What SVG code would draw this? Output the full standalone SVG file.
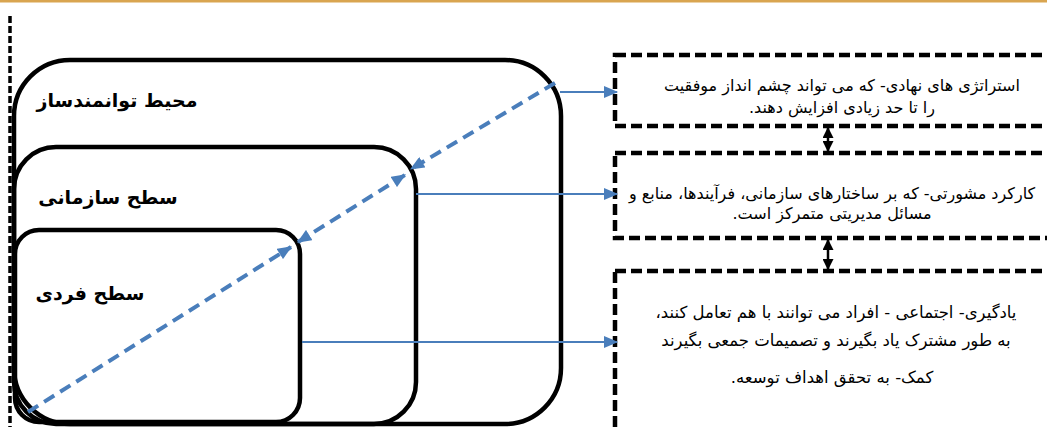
<svg xmlns="http://www.w3.org/2000/svg" width="1047" height="427" viewBox="0 0 1047 427">
<style>
.lvl{fill:none;stroke:#000;stroke-width:4.5}
.box{fill:#fff;stroke:#000;stroke-width:4.5;stroke-dasharray:11 5}
.lbl{font-family:"DejaVu Sans",sans-serif;font-size:19px;font-weight:bold;fill:#000;text-anchor:middle}
.txt{font-family:"DejaVu Sans",sans-serif;font-size:16px;fill:#000;text-anchor:middle}
.diag{fill:none;stroke:#4a7ebb;stroke-width:4;stroke-dasharray:12 7}
.sol{fill:none;stroke:#4a7ebb;stroke-width:2}
.dbl{fill:none;stroke:#000;stroke-width:2.5}
</style>
<defs>
<marker id="ab" viewBox="0 0 12 10" refX="11" refY="5" markerWidth="15" markerHeight="12" markerUnits="userSpaceOnUse" orient="auto-start-reverse"><path d="M0,0 L12,5 L0,10 Z" fill="#4a7ebb"/></marker>
<marker id="ak" viewBox="0 0 10 10" refX="9" refY="5" markerWidth="11" markerHeight="11" markerUnits="userSpaceOnUse" orient="auto-start-reverse"><path d="M0,0 L10,5 L0,10 Z" fill="#000"/></marker>
</defs>
<rect x="0" y="0" width="1047" height="427" fill="#fff"/>
<rect x="0" y="0" width="1047" height="2.5" fill="#d9a550"/>
<line x1="10" y1="16" x2="10" y2="427" stroke="#000" stroke-width="3.5" stroke-dasharray="7 3"/>
<g id="outer">
<rect class="lvl" x="14" y="60" width="547" height="364" rx="56"/>
<text class="lbl" x="117" y="107" direction="rtl">محیط توانمندساز</text>
</g>
<g id="middle">
<rect class="lvl" x="14" y="147" width="402" height="277" rx="42"/>
<text class="lbl" x="108" y="204" direction="rtl">سطح سازمانی</text>
</g>
<g id="inner">
<rect class="lvl" x="15" y="230" width="285" height="192" rx="24"/>
<text class="lbl" x="90" y="300" direction="rtl">سطح فردی</text>
</g>
<g id="box1">
<rect class="box" x="615" y="55" width="450" height="71"/>
<text class="txt" x="842" y="91" direction="rtl">استراتژی های نهادی- که می تواند چشم انداز موفقیت</text>
<text class="txt" x="842" y="113" direction="rtl">را تا حد زیادی افزایش دهند.</text>
</g>
<g id="box2">
<rect class="box" x="615" y="153" width="450" height="85"/>
<text class="txt" x="832" y="199" direction="rtl">کارکرد مشورتی- که بر ساختارهای سازمانی، فرآیندها، منابع و</text>
<text class="txt" x="832" y="219" direction="rtl">مسائل مدیریتی متمرکز است.</text>
</g>
<g id="box3">
<rect class="box" x="615" y="271" width="450" height="180"/>
<text class="txt" x="836" y="318" direction="rtl" style="font-size:16.5px">یادگیری- اجتماعی - افراد می توانند با هم تعامل کنند،</text>
<text class="txt" x="836" y="346" direction="rtl" style="font-size:16.5px">به طور مشترک یاد بگیرند و تصمیمات جمعی بگیرند</text>
<text class="txt" x="832" y="383" direction="rtl" style="font-size:16.5px">کمک- به تحقق اهداف توسعه.</text>
</g>
<g id="connectors">
<line class="diag" x1="28" y1="412" x2="291" y2="247" marker-end="url(#ab)"/>
<line class="diag" x1="298" y1="242" x2="405" y2="175" marker-start="url(#ab)" marker-end="url(#ab)"/>
<line class="diag" x1="555" y1="83" x2="411" y2="169" marker-end="url(#ab)"/>
<line class="sol" x1="560" y1="92" x2="617" y2="92" marker-end="url(#ab)"/>
<line class="sol" x1="416" y1="194" x2="617" y2="194" marker-end="url(#ab)"/>
<line class="sol" x1="302" y1="342" x2="617" y2="342" marker-end="url(#ab)"/>
<line class="dbl" x1="828" y1="128" x2="828" y2="151" marker-start="url(#ak)" marker-end="url(#ak)"/>
<line class="dbl" x1="828" y1="240" x2="828" y2="269" marker-start="url(#ak)" marker-end="url(#ak)"/>
</g>
</svg>
